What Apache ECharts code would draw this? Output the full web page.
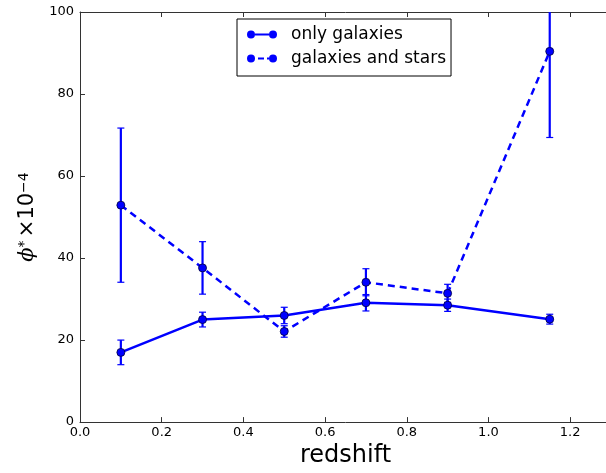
<!DOCTYPE html>
<html>
<head>
<meta charset="utf-8">
<script src="https://cdn.jsdelivr.net/npm/echarts@6/dist/echarts.min.js"></script>
<style>
  html, body { margin: 0; padding: 0; background: #fff; overflow: hidden; }
  #chart { width: 620px; height: 473px; }
</style>
</head>
<body>
<div id="chart"></div>
<script>
// Redshift bins
const redshift = [0.1, 0.3, 0.5, 0.7, 0.9, 1.15];

// phi* (x 1e-4) and 1-sigma errors
const onlyGalaxies = [17.0, 25.0, 26.0, 29.1, 28.5, 25.1];
const onlyGalaxiesErr = [3.0, 1.8, 2.0, 2.0, 1.5, 1.2];
const galaxiesAndStars = [52.9, 37.6, 22.1, 34.1, 31.4, 90.4];
const galaxiesAndStarsErr = [18.8, 6.4, 1.4, 3.3, 2.2, 21.0];

// Axis ticks
const xTicks = [0.0, 0.2, 0.4, 0.6, 0.8, 1.0, 1.2];
const yTicks = [0, 20, 40, 60, 80, 100];

const BLUE = '#0000ff';
const AXIS = '#333333';
const FONT = 'DejaVu Sans';

const pts = (ys) => redshift.map((x, i) => [x, ys[i]]);
const errPts = (ys, es) => redshift.map((x, i) => [x, ys[i] - es[i], ys[i] + es[i]]);

function errorBars(name, data) {
  return {
    type: 'custom',
    name: name + ' err',
    data: data,
    clip: true,
    z: 1,
    silent: true,
    renderItem: function (params, api) {
      const x = api.value(0);
      const lo = api.coord([x, api.value(1)]);
      const hi = api.coord([x, api.value(2)]);
      const cap = 3.5;
      const cs = params.coordSys;
      const yTop = Math.max(hi[1], cs.y);
      return {
        type: 'group',
        children: [
          { type: 'line', shape: { x1: lo[0], y1: lo[1], x2: hi[0], y2: yTop },
            style: { stroke: BLUE, lineWidth: 2.2 } },
          { type: 'line', shape: { x1: lo[0] - cap, y1: lo[1], x2: lo[0] + cap, y2: lo[1] },
            style: { stroke: BLUE, lineWidth: 1.2 } },
          { type: 'line', shape: { x1: hi[0] - cap, y1: hi[1], x2: hi[0] + cap, y2: hi[1] },
            style: { stroke: BLUE, lineWidth: 1.2 }, invisible: hi[1] < cs.y }
        ]
      };
    }
  };
}

// legend glyphs: line with a marker at each end
const solidIcon = 'path://M0,4A4,4 0 1,1 8,4A4,4 0 1,1 0,4Z M8,3L22,3L22,5L8,5Z M22,4A4,4 0 1,1 30,4A4,4 0 1,1 22,4Z';
const dashedIcon = 'path://M0,4A4,4 0 1,1 8,4A4,4 0 1,1 0,4Z M11,3L17,3L17,5L11,5Z M20,3L22,3L22,5L20,5Z M22,4A4,4 0 1,1 30,4A4,4 0 1,1 22,4Z';

const chart = echarts.init(document.getElementById('chart'), null, { renderer: 'canvas' });

chart.setOption({
  animation: false,
  backgroundColor: '#ffffff',
  grid: { left: 80, right: 9, top: 12, bottom: 50, containLabel: false },
  legend: {
    orient: 'vertical',
    left: 237,
    top: 19,
    padding: [7, 5, 9, 10],
    itemGap: 7,
    itemWidth: 30,
    itemHeight: 8,
    borderColor: '#000',
    borderWidth: 1,
    backgroundColor: '#fff',
    symbolKeepAspect: false,
    itemStyle: { borderWidth: 0, color: BLUE },
    textStyle: { fontFamily: FONT, fontSize: 17, color: '#000', lineHeight: 17, padding: [0, 0, 0, 9] },
    data: [
      { name: 'only galaxies', icon: solidIcon },
      { name: 'galaxies and stars', icon: dashedIcon }
    ]
  },
  xAxis: [
    {
      type: 'value', min: 0, max: 1.3, interval: 0.2,
      name: 'redshift', nameLocation: 'middle', nameGap: 17,
      nameTextStyle: { fontFamily: FONT, fontSize: 24, color: '#000' },
      axisLine: { show: true, lineStyle: { color: AXIS, width: 1 } },
      axisTick: { show: true, inside: true, length: 5, lineStyle: { color: AXIS } },
      axisLabel: {
        margin: 4, fontFamily: FONT, fontSize: 13, color: '#000',
        showMaxLabel: false,
        formatter: v => (xTicks.some(t => Math.abs(t - v) < 1e-9) ? v.toFixed(1) : '')
      },
      splitLine: { show: false }
    },
    {
      type: 'value', position: 'top', min: 0, max: 1.3, interval: 0.2,
      axisLine: { show: true, onZero: false, lineStyle: { color: AXIS, width: 1 } },
      axisTick: { show: true, inside: true, length: 5, lineStyle: { color: AXIS } },
      axisLabel: { show: false },
      splitLine: { show: false }
    }
  ],
  yAxis: [
    {
      type: 'value', min: 0, max: 100, interval: 20,
      name: '{p|ϕ}{s|*} {t|×10}{s|−4}',
      nameLocation: 'middle', nameGap: 37, nameRotate: 90,
      nameTextStyle: {
        color: '#000',
        rich: {
          p: { fontFamily: 'DejaVu Serif', fontStyle: 'italic', fontSize: 21, color: '#000', verticalAlign: 'bottom' },
          t: { fontFamily: FONT, fontSize: 21, color: '#000', verticalAlign: 'bottom' },
          s: { fontFamily: FONT, fontSize: 14, color: '#000', verticalAlign: 'top' }
        }
      },
      axisLine: { show: true, lineStyle: { color: AXIS, width: 1 } },
      axisTick: { show: true, inside: true, length: 5, lineStyle: { color: AXIS } },
      axisLabel: {
        margin: 6, fontFamily: FONT, fontSize: 13, color: '#000',
        formatter: v => (yTicks.includes(v) ? String(v) : '')
      },
      splitLine: { show: false }
    }
  ],
  series: [
    errorBars('only galaxies', errPts(onlyGalaxies, onlyGalaxiesErr)),
    errorBars('galaxies and stars', errPts(galaxiesAndStars, galaxiesAndStarsErr)),
    {
      name: 'only galaxies', type: 'line', data: pts(onlyGalaxies),
      symbol: 'circle', symbolSize: 8, z: 3,
      lineStyle: { color: BLUE, width: 2.5 },
      itemStyle: { color: BLUE, borderColor: '#00003c', borderWidth: 0.8 }
    },
    {
      name: 'galaxies and stars', type: 'line', data: pts(galaxiesAndStars),
      symbol: 'circle', symbolSize: 8, z: 3,
      lineStyle: { color: BLUE, width: 2.5, type: [7, 5] },
      itemStyle: { color: BLUE, borderColor: '#00003c', borderWidth: 0.8 }
    }
  ]
});
</script>
</body>
</html>
